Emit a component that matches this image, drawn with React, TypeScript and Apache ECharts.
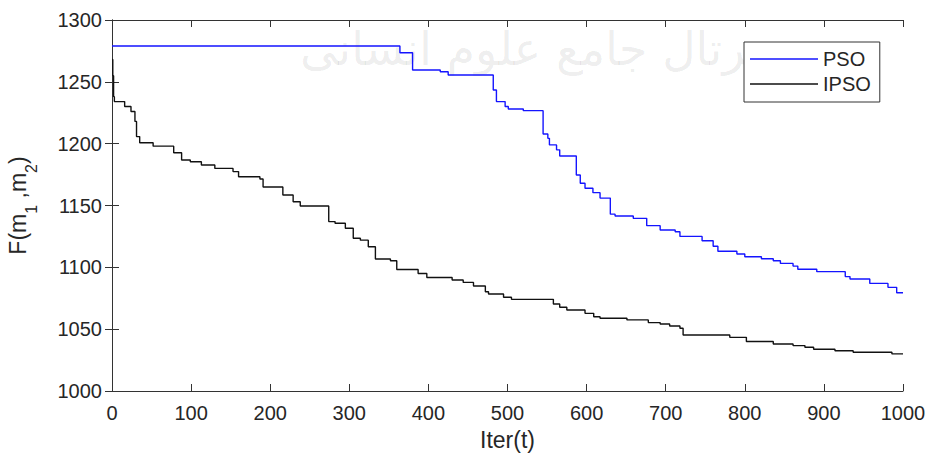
import React, { useEffect, useRef } from "react";
import * as echarts from "echarts";

const xTicks = { min: 0, max: 1000, interval: 100 };
const yTicks = { min: 1000, max: 1300, interval: 50 };

const seriesNames = ["PSO", "IPSO"];

const psoIter = [0, 364, 380, 415, 425, 482, 486, 497, 501, 520, 545, 551, 553, 562, 566, 587, 592, 598, 608, 617, 630, 636, 659, 676, 693, 712, 718, 746, 760, 766, 790, 800, 821, 836, 845, 861, 867, 891, 927, 933, 958, 981, 992, 1000];
const psoValue = [1279, 1273.5, 1259.6, 1258.2, 1255.5, 1243.4, 1234, 1230, 1228, 1226.7, 1207.8, 1204.3, 1199, 1195, 1190, 1174.7, 1168, 1164, 1160.4, 1156, 1143, 1141.5, 1139.6, 1133.7, 1130.2, 1128.8, 1125, 1121.5, 1117, 1113, 1110.8, 1108.5, 1107, 1105.3, 1103.2, 1101, 1098.4, 1096.5, 1092.5, 1090.6, 1087, 1083.8, 1079.4, 1079.4];

const ipsoIter = [0, 1, 2, 3, 16, 24, 29, 31, 35, 52, 78, 88, 99, 113, 130, 153, 160, 187, 191, 216, 229, 238, 274, 282, 295, 305, 314, 324, 333, 352, 360, 387, 398, 430, 444, 457, 472, 476, 495, 505, 558, 566, 575, 598, 609, 617, 651, 678, 693, 705, 718, 722, 781, 802, 836, 861, 876, 887, 914, 937, 986, 1000];
const ipsoValue = [1268, 1255, 1238, 1234, 1230, 1226, 1218, 1205.7, 1200.8, 1198, 1192.7, 1186.8, 1185.4, 1182.8, 1180, 1177.4, 1173.3, 1171.4, 1165, 1158.5, 1153, 1149.6, 1137, 1135.6, 1131.6, 1123.5, 1122, 1116.6, 1106.7, 1105.3, 1098.3, 1095, 1091.8, 1089.7, 1087.8, 1084.9, 1080.3, 1078.4, 1075.8, 1074.1, 1070.4, 1067.7, 1065.5, 1062.8, 1060, 1058.8, 1057.5, 1055.3, 1054.2, 1052.6, 1050.7, 1045.3, 1043.4, 1040, 1038, 1036.7, 1035.4, 1033.7, 1032.6, 1031.3, 1030, 1030];

const xTitle = "Iter(t)";
const watermark = "پرتال جامع علوم انسانی";

const FONT = "'Liberation Sans', Arial, sans-serif";
const AXIS_COLOR = "#333333";
const TEXT_COLOR = "#262626";
const PSO_COLOR = "#1414ff";
const IPSO_COLOR = "#111111";

export default function App() {
  const ref = useRef<HTMLDivElement>(null);

  useEffect(() => {
    if (!ref.current) return;
    const chart = echarts.init(ref.current, null, { renderer: "svg" });

    const axisCommon = {
      axisLine: { show: true, lineStyle: { color: AXIS_COLOR, width: 1 } },
      axisTick: { show: true, inside: true, length: 7, lineStyle: { color: AXIS_COLOR, width: 1 } },
      splitLine: { show: false },
    };

    chart.setOption({
      animation: false,
      backgroundColor: "#ffffff",
      textStyle: { fontFamily: FONT },
      graphic: [
        {
          type: "text",
          left: 300,
          top: 26,
          z: 0,
          silent: true,
          style: {
            text: watermark,
            font: "46px 'DejaVu Sans', sans-serif",
            fill: "rgba(0,0,0,0.08)",
          },
        },
      ],
      grid: {
        left: 112,
        right: 24,
        top: 20,
        bottom: 67,
        containLabel: false,
        outerBoundsMode: "none",
      },
      legend: {
        data: [
          { name: seriesNames[0], icon: "rect" },
          { name: seriesNames[1], icon: "rect" },
        ],
        left: 744,
        top: 42,
        orient: "vertical",
        itemWidth: 68,
        itemHeight: 1.5,
        itemGap: 5,
        padding: [7, 9, 8, 6],
        borderColor: AXIS_COLOR,
        borderWidth: 1,
        backgroundColor: "#ffffff",
        textStyle: { fontSize: 20, lineHeight: 20, color: TEXT_COLOR, fontFamily: FONT },
      },
      xAxis: [
        {
          type: "value",
          ...xTicks,
          position: "bottom",
          name: xTitle,
          nameLocation: "middle",
          nameGap: 37,
          nameTextStyle: { fontSize: 23, color: TEXT_COLOR, fontFamily: FONT },
          axisLabel: {
            fontSize: 20,
            color: TEXT_COLOR,
            margin: 12,
            fontFamily: FONT,
            formatter: (v: number) => String(v),
          },
          ...axisCommon,
        },
        {
          type: "value",
          ...xTicks,
          position: "top",
          axisLabel: { show: false },
          ...axisCommon,
        },
      ],
      yAxis: [
        {
          type: "value",
          ...yTicks,
          position: "left",
          name: "F(m{s|1} ,m{s|2})",
          nameLocation: "middle",
          nameGap: 73,
          nameRotate: 90,
          nameTextStyle: {
            fontSize: 23,
            color: TEXT_COLOR,
            fontFamily: FONT,
            rich: {
              s: {
                fontSize: 16,
                padding: [26, 0, 0, 0],
                color: TEXT_COLOR,
                fontFamily: FONT,
              },
            },
          },
          axisLabel: {
            fontSize: 20,
            color: TEXT_COLOR,
            margin: 10,
            fontFamily: FONT,
            formatter: (v: number) => String(v),
          },
          ...axisCommon,
        },
        {
          type: "value",
          ...yTicks,
          position: "right",
          axisLabel: { show: false },
          ...axisCommon,
        },
      ],
      series: [
        {
          name: seriesNames[0],
          type: "line",
          step: "end",
          symbol: "none",
          xAxisIndex: 0,
          yAxisIndex: 0,
          z: 3,
          lineStyle: { color: PSO_COLOR, width: 1.4 },
          itemStyle: { color: PSO_COLOR },
          data: psoIter.map((x, i) => [x, psoValue[i]]),
        },
        {
          name: seriesNames[1],
          type: "line",
          step: "end",
          symbol: "none",
          xAxisIndex: 0,
          yAxisIndex: 0,
          z: 3,
          lineStyle: { color: IPSO_COLOR, width: 1.4 },
          itemStyle: { color: IPSO_COLOR },
          data: ipsoIter.map((x, i) => [x, ipsoValue[i]]),
        },
      ],
    });

    return () => chart.dispose();
  }, []);

  return (
    <div
      ref={ref}
      style={{ position: "absolute", left: 0, top: 0, width: 927, height: 458 }}
    />
  );
}
